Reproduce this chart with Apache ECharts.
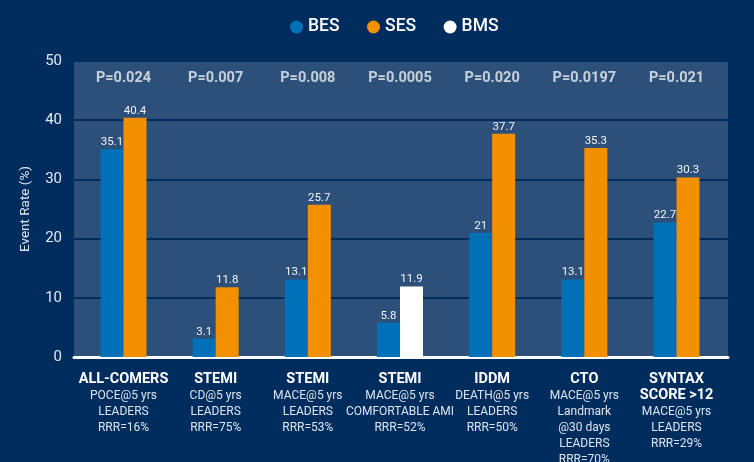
<!DOCTYPE html>
<html><head><meta charset="utf-8">
<script src="https://cdn.jsdelivr.net/npm/echarts@6/dist/echarts.min.js"></script>
<style>html,body{margin:0;padding:0;background:#012c5e;}#c{width:754px;height:462px;}</style>
</head><body><div id="c"></div>
<script>
const catTitles = ['ALL-COMERS','STEMI','STEMI','STEMI','IDDM','CTO','SYNTAX\nSCORE >12'];
const catSubs = ['POCE@5 yrs\nLEADERS\nRRR=16%','CD@5 yrs\nLEADERS\nRRR=75%','MACE@5 yrs\nLEADERS\nRRR=53%','MACE@5 yrs\nCOMFORTABLE AMI\nRRR=52%','DEATH@5 yrs\nLEADERS\nRRR=50%','MACE@5 yrs\nLandmark\n@30 days\nLEADERS\nRRR=70%','MACE@5 yrs\nLEADERS\nRRR=29%'];
const bes = [35.1, 3.1, 13.1, 5.8, 21, 13.1, 22.7];
const ses = [40.4, 11.8, 25.7, null, 37.7, 35.3, 30.3];
const bms = [null, null, null, 11.9, null, null, null];
const pValues = ['P=0.024','P=0.007','P=0.008','P=0.0005','P=0.020','P=0.0197','P=0.021'];
const yMin = 0, yMax = 50, yStep = 10;
const pLabelLevel = 47;

const FONT = "Roboto,'Noto Sans',sans-serif";
const categories = catTitles.map((t, i) => t + ' / ' + catSubs[i]);
const chart = echarts.init(document.getElementById('c'));
const valLabel = {show: true, position: 'top', distance: 1, color: '#f2f4f8', fontSize: 11.5, fontFamily: FONT};
chart.setOption({
  animation: false,
  backgroundColor: '#012c5e',
  textStyle: {fontFamily: FONT},
  legend: {
    top: 13, left: 285, icon: 'circle', itemWidth: 13, itemHeight: 13, itemGap: 27.5,
    data: ['BES','SES','BMS'],
    textStyle: {color: '#ffffff', fontSize: 17.5, fontWeight: 500, fontFamily: FONT}
  },
  grid: [
    {left: 74, right: 26, top: 61, bottom: 105, show: true, backgroundColor: '#2c5079', borderWidth: 0, outerBoundsMode: 'none', containLabel: false},
    {left: 77.4, right: 31.4, top: 61, bottom: 105, outerBoundsMode: 'none', containLabel: false}
  ],
  xAxis: [
    {type: 'value', gridIndex: 0, min: 0, max: 1, axisLine: {show: true, lineStyle: {color: '#ffffff', width: 3}},
     axisTick: {show: false}, axisLabel: {show: false}, splitLine: {show: false}},
    {type: 'category', gridIndex: 1, data: categories,
     axisLine: {show: false}, axisTick: {show: false},
     axisLabel: {
       interval: 0, margin: 14,
       formatter: (v, i) => {
         const t = catTitles[i].split('\n').map(s => '{t|' + s + '}');
         const s = catSubs[i].split('\n').map(s => '{s|' + s + '}');
         return t.concat(s).join('\n');
       },
       rich: {
         t: {fontSize: 14.5, fontWeight: 'bold', color: '#ffffff', lineHeight: 16.5, fontFamily: FONT, align: 'center'},
         s: {fontSize: 12, color: '#dfe5ee', lineHeight: 16, fontFamily: FONT, align: 'center'}
       }
     }}
  ],
  yAxis: [
    {type: 'value', gridIndex: 0, min: yMin, max: yMax, interval: yStep,
     name: 'Event Rate (%)', nameLocation: 'middle', nameGap: 41,
     nameTextStyle: {color: '#dfe5ee', fontSize: 13.5, fontFamily: FONT},
     axisLine: {show: false}, axisTick: {show: false},
     axisLabel: {color: '#e4e9f0', fontSize: 15, margin: 12, fontFamily: FONT},
     splitLine: {show: true, lineStyle: {color: '#012c5e', width: 2}}},
    {type: 'value', gridIndex: 1, min: yMin, max: yMax, interval: yStep, show: false}
  ],
  series: [
    {name: 'BES', type: 'bar', xAxisIndex: 1, yAxisIndex: 1, data: bes, barWidth: 23, barGap: '0%',
     itemStyle: {color: '#0070b9'}, label: valLabel},
    {name: 'SES', type: 'bar', xAxisIndex: 1, yAxisIndex: 1, data: ses, barWidth: 23, barGap: '0%', stack: 'b',
     itemStyle: {color: '#f39000'}, label: valLabel},
    {name: 'BMS', type: 'bar', xAxisIndex: 1, yAxisIndex: 1, data: bms, barWidth: 23, barGap: '0%', stack: 'b',
     itemStyle: {color: '#ffffff'}, label: valLabel},
    {type: 'scatter', xAxisIndex: 1, yAxisIndex: 1, symbolSize: 1, itemStyle: {color: 'rgba(0,0,0,0)'},
     data: pValues.map(() => pLabelLevel), silent: true,
     label: {show: true, position: 'inside', formatter: p => pValues[p.dataIndex],
       color: '#eef1f5', fontSize: 14.5, fontWeight: 'bold', fontFamily: FONT}}
  ]
});
</script></body></html>
